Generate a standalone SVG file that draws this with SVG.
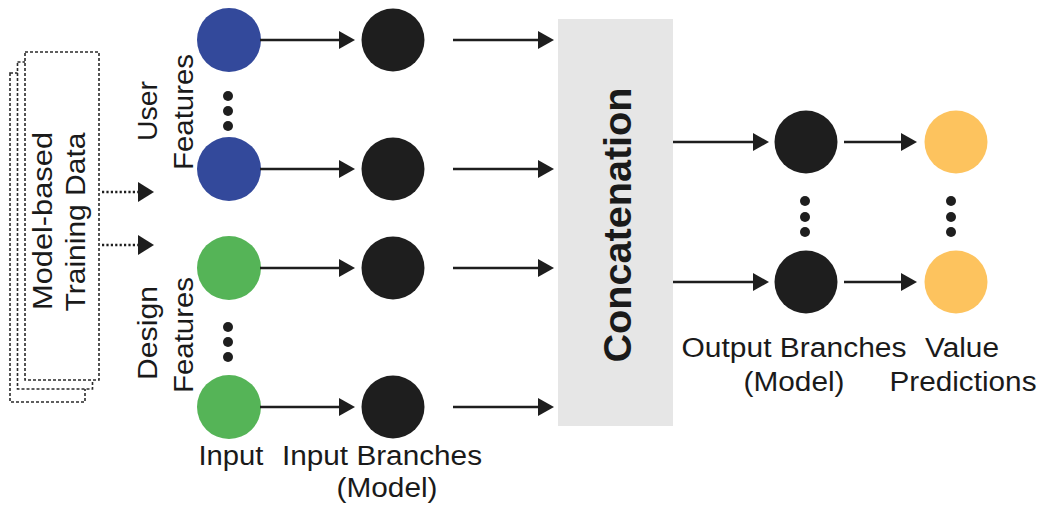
<svg xmlns="http://www.w3.org/2000/svg" width="1041" height="508" viewBox="0 0 1041 508">
  <style>
    .lbl { font-family: "Liberation Sans", Arial, Helvetica, sans-serif; font-size: 27px; fill: #1a1a1a; }
    .bold { font-family: "Liberation Sans", Arial, Helvetica, sans-serif; font-size: 38px; font-weight: bold; fill: #1a1a1a; }
    .stack { fill: #ffffff; stroke: #2a2a2a; stroke-width: 1.6; stroke-dasharray: 3 2; }
    .user { fill: #33499b; }
    .design { fill: #55b457; }
    .branch { fill: #1e1e1e; }
    .pred { fill: #fdc35e; }
    .dot { fill: #1e1e1e; }
    .flow { stroke: #1e1e1e; stroke-width: 2.6; fill: none; marker-end: url(#head); }
    .feed { stroke: #1e1e1e; stroke-width: 2.6; fill: none; stroke-dasharray: 2.2 2.2; marker-end: url(#headBig); }
  </style>
  <defs>
    <marker id="head" markerUnits="userSpaceOnUse" viewBox="0 0 16 18" refX="8" refY="9" markerWidth="16" markerHeight="18" orient="auto">
      <path d="M0,0 L16,9 L0,18 Z" fill="#1e1e1e"/>
    </marker>
    <marker id="headBig" markerUnits="userSpaceOnUse" viewBox="0 0 16 20" refX="8" refY="10" markerWidth="16" markerHeight="20" orient="auto">
      <path d="M0,0 L16,10 L0,20 Z" fill="#1e1e1e"/>
    </marker>
  </defs>

  <rect width="1041" height="508" fill="#ffffff"/>

  <!-- stacked training-data sheets -->
  <g id="training-data">
    <rect class="stack" x="10" y="73" width="75" height="329"/>
    <rect class="stack" x="17.5" y="62" width="75" height="327"/>
    <rect class="stack" x="25" y="52" width="74" height="328"/>
    <text class="lbl" transform="translate(52,221) rotate(-90)" text-anchor="middle" textLength="178" lengthAdjust="spacingAndGlyphs">Model-based</text>
    <text class="lbl" transform="translate(85,222) rotate(-90)" text-anchor="middle" textLength="179" lengthAdjust="spacingAndGlyphs">Training Data</text>
  </g>

  <!-- group labels -->
  <g id="user-features-label">
    <text class="lbl" transform="translate(157,111) rotate(-90)" text-anchor="middle" textLength="60" lengthAdjust="spacingAndGlyphs">User</text>
    <text class="lbl" transform="translate(193,112) rotate(-90)" text-anchor="middle" textLength="116" lengthAdjust="spacingAndGlyphs">Features</text>
  </g>
  <g id="design-features-label">
    <text class="lbl" transform="translate(157,333) rotate(-90)" text-anchor="middle" textLength="94" lengthAdjust="spacingAndGlyphs">Design</text>
    <text class="lbl" transform="translate(193,335) rotate(-90)" text-anchor="middle" textLength="116" lengthAdjust="spacingAndGlyphs">Features</text>
  </g>

  <!-- input nodes -->
  <g id="user-in-1"><circle class="user" cx="229" cy="40" r="32"/></g>
  <g id="user-in-n"><circle class="user" cx="229" cy="169" r="32"/></g>
  <g id="user-ellipsis">
    <circle class="dot" cx="228" cy="96" r="5"/>
    <circle class="dot" cx="228" cy="111" r="5"/>
    <circle class="dot" cx="228" cy="126" r="5"/>
  </g>
  <g id="design-in-1"><circle class="design" cx="229" cy="268" r="32"/></g>
  <g id="design-in-n"><circle class="design" cx="229" cy="407" r="32"/></g>
  <g id="design-ellipsis">
    <circle class="dot" cx="228" cy="327" r="5"/>
    <circle class="dot" cx="228" cy="342" r="5"/>
    <circle class="dot" cx="228" cy="357" r="5"/>
  </g>

  <!-- input branch nodes -->
  <g id="in-branch-1"><circle class="branch" cx="393" cy="40" r="31.5"/></g>
  <g id="in-branch-2"><circle class="branch" cx="393" cy="169" r="31.5"/></g>
  <g id="in-branch-3"><circle class="branch" cx="393" cy="268" r="31.5"/></g>
  <g id="in-branch-4"><circle class="branch" cx="393" cy="407" r="31.5"/></g>

  <!-- concatenation block -->
  <g id="concatenation">
    <rect x="558" y="19" width="115" height="407" fill="#e6e6e6"/>
    <text class="bold" transform="translate(631,225) rotate(-90)" text-anchor="middle" textLength="275" lengthAdjust="spacingAndGlyphs">Concatenation</text>
  </g>

  <!-- output branch nodes -->
  <g id="out-branch-1"><circle class="branch" cx="806" cy="142" r="31.5"/></g>
  <g id="out-branch-n"><circle class="branch" cx="806" cy="282" r="31.5"/></g>
  <g id="out-ellipsis">
    <circle class="dot" cx="805" cy="201" r="5"/>
    <circle class="dot" cx="805" cy="217" r="5"/>
    <circle class="dot" cx="805" cy="232" r="5"/>
  </g>

  <!-- value prediction nodes -->
  <g id="pred-1"><circle class="pred" cx="956" cy="142" r="31.5"/></g>
  <g id="pred-n"><circle class="pred" cx="956" cy="282" r="31.5"/></g>
  <g id="pred-ellipsis">
    <circle class="dot" cx="951" cy="201" r="5"/>
    <circle class="dot" cx="951" cy="217" r="5"/>
    <circle class="dot" cx="951" cy="232" r="5"/>
  </g>

  <!-- column captions -->
  <g id="captions">
    <text class="lbl" x="231" y="465" text-anchor="middle" textLength="65" lengthAdjust="spacingAndGlyphs">Input</text>
    <text class="lbl" x="382" y="465" text-anchor="middle" textLength="200" lengthAdjust="spacingAndGlyphs">Input Branches</text>
    <text class="lbl" x="387" y="497" text-anchor="middle" textLength="101" lengthAdjust="spacingAndGlyphs">(Model)</text>
    <text class="lbl" x="794" y="357" text-anchor="middle" textLength="225" lengthAdjust="spacingAndGlyphs">Output Branches</text>
    <text class="lbl" x="794" y="391" text-anchor="middle" textLength="101" lengthAdjust="spacingAndGlyphs">(Model)</text>
    <text class="lbl" x="962" y="357" text-anchor="middle" textLength="74" lengthAdjust="spacingAndGlyphs">Value</text>
    <text class="lbl" x="963" y="391" text-anchor="middle" textLength="147" lengthAdjust="spacingAndGlyphs">Predictions</text>
  </g>

  <!-- connectors -->
  <g id="connectors">
    <line class="feed" x1="102" y1="192" x2="146" y2="192"/>
    <line class="feed" x1="102" y1="245" x2="146" y2="245"/>

    <line class="flow" x1="260" y1="40" x2="347" y2="40"/>
    <line class="flow" x1="260" y1="169" x2="347" y2="169"/>
    <line class="flow" x1="260" y1="268" x2="347" y2="268"/>
    <line class="flow" x1="260" y1="407" x2="347" y2="407"/>

    <line class="flow" x1="453" y1="40" x2="546" y2="40"/>
    <line class="flow" x1="453" y1="169" x2="546" y2="169"/>
    <line class="flow" x1="453" y1="268" x2="546" y2="268"/>
    <line class="flow" x1="453" y1="407" x2="546" y2="407"/>

    <line class="flow" x1="673" y1="142" x2="761" y2="142"/>
    <line class="flow" x1="673" y1="282" x2="761" y2="282"/>

    <line class="flow" x1="844" y1="142" x2="909" y2="142"/>
    <line class="flow" x1="844" y1="282" x2="909" y2="282"/>
  </g>
</svg>
